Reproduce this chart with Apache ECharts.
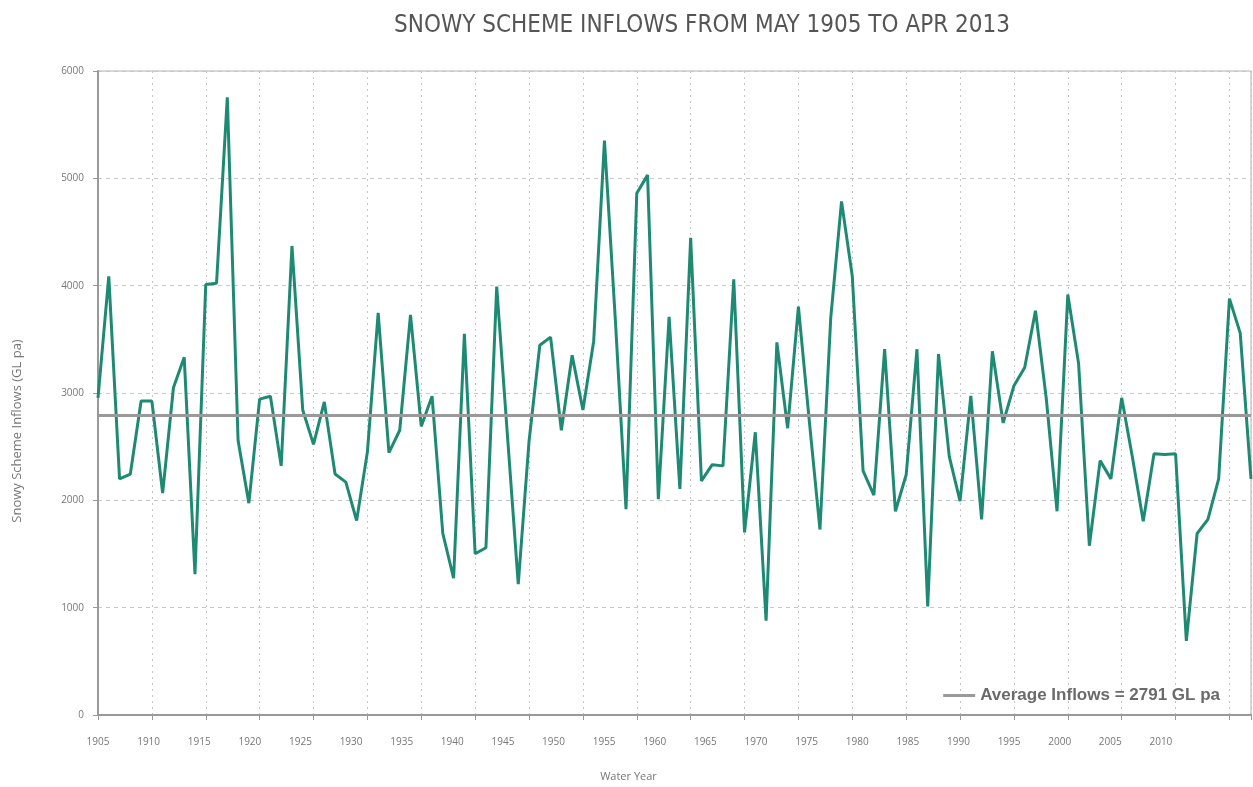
<!DOCTYPE html>
<html>
<head>
<meta charset="utf-8">
<script src="https://cdn.jsdelivr.net/npm/echarts@6/dist/echarts.min.js"></script>
<style>
html,body{margin:0;padding:0;background:#fff;}
#chart{width:1253px;height:787px;}
</style>
</head>
<body>
<div id="chart"></div>
<script>
const titleText = 'SNOWY SCHEME INFLOWS FROM MAY 1905 TO APR 2013';
const yAxisName = 'Snowy Scheme Inflows (GL pa)';
const xAxisName = 'Water Year';
const averageLabel = 'Average Inflows = 2791 GL pa';
const averageInflow = 2791;

const years = [
  1905,1906,1907,1908,1909,1910,1911,1912,1913,1914,
  1915,1916,1917,1918,1919,1920,1921,1922,1923,1924,
  1925,1926,1927,1928,1929,1930,1931,1932,1933,1934,
  1935,1936,1937,1938,1939,1940,1941,1942,1943,1944,
  1945,1946,1947,1948,1949,1950,1951,1952,1953,1954,
  1955,1956,1957,1958,1959,1960,1961,1962,1963,1964,
  1965,1966,1967,1968,1969,1970,1971,1972,1973,1974,
  1975,1976,1977,1978,1979,1980,1981,1982,1983,1984,
  1985,1986,1987,1988,1989,1990,1991,1992,1993,1994,
  1995,1996,1997,1998,1999,2000,2001,2002,2003,2004,
  2005,2006,2007,2008,2009,2010,2011,2012
];

const inflows = [
  2955,4087,2200,2245,2925,2925,2068,3049,3332,1313,
  4011,4023,5755,2558,1974,2943,2970,2321,4370,2842,
  2521,2917,2245,2170,1811,2450,3747,2445,2653,3728,
  2690,2970,1691,1275,3551,1502,1558,3992,2600,1219,
  2550,3445,3521,2653,3351,2842,3483,5351,3700,1917,
  4860,5030,2011,3709,2106,4445,2181,2332,2321,4060,
  1702,2634,879,3472,2672,3804,2750,1728,3700,4785,
  4087,2275,2049,3408,1898,2238,3408,1011,3362,2408,
  1992,2974,1823,3389,2721,3068,3238,3766,2950,1898,
  3917,3275,1577,2370,2200,2955,2400,1804,2434,2426,
  2434,691,1691,1823,2200,3879,3558,2200
];

const yTicks = [0,1000,2000,3000,4000,5000,6000];
const xTickLabels = [1905,1910,1915,1920,1925,1930,1935,1940,1945,1950,1955,1960,1965,1970,1975,1980,1985,1990,1995,2000,2005,2010];

const chart = echarts.init(document.getElementById('chart'));
const seriesData = years.map((y, i) => [y, inflows[i]]);

chart.setOption({
  backgroundColor: '#ffffff',
  animation: false,
  title: {
    text: titleText,
    left: 697,
    top: 9,
    textAlign: 'center',
    textStyle: {
      fontFamily: "'Liberation Sans Narrow','DejaVu Sans Condensed','Open Sans',sans-serif",
      fontSize: 24,
      fontWeight: 'normal',
      color: '#555555'
    }
  },
  legend: {
    right: 28,
    top: 682,
    itemWidth: 32,
    itemHeight: 3,
    itemGap: 8,
    data: [{name: averageLabel, icon: 'rect'}],
    textStyle: {
      fontFamily: "'Liberation Sans',Arial,sans-serif",
      fontSize: 17,
      fontWeight: 'bold',
      color: '#6a6a6a'
    }
  },
  grid: {
    left: 98,
    top: 71,
    width: 1153,
    height: 648,
    show: true,
    borderColor: '#b0b0b0',
    borderWidth: 1,
    containLabel: false
  },
  xAxis: [
    {
      type: 'value',
      min: years[0],
      max: years[years.length - 1],
      interval: 5,
      axisLine: {show: true, lineStyle: {color: '#999999', width: 2}},
      axisTick: {show: true, length: 5, inside: false, lineStyle: {color: '#999999'}},
      axisLabel: {show: false},
      splitLine: {show: true, lineStyle: {color: '#c4c4c4', type: [2, 4], width: 1}}
    },
    {
      type: 'value',
      position: 'bottom',
      min: 1905,
      max: 2018.9,
      interval: 5,
      axisLine: {show: false},
      axisTick: {show: false},
      splitLine: {show: false},
      axisLabel: {
        show: true,
        margin: 22,
        showMaxLabel: false,
        fontFamily: "'Open Sans',sans-serif",
        fontSize: 10,
        color: '#777777',
        formatter: function (v) { return xTickLabels.indexOf(v) >= 0 ? String(v) : ''; }
      },
      name: xAxisName,
      nameLocation: 'middle',
      nameGap: 56,
      nameTextStyle: {
        fontFamily: "'Open Sans',sans-serif",
        fontSize: 11,
        color: '#777777',
        padding: [0, 92, 0, 0]
      }
    }
  ],
  yAxis: {
    type: 'value',
    min: yTicks[0],
    max: yTicks[yTicks.length - 1],
    interval: 1000,
    axisLine: {show: true, lineStyle: {color: '#999999', width: 2}},
    axisTick: {show: true, length: 5, lineStyle: {color: '#999999'}},
    axisLabel: {
      margin: 14,
      fontFamily: "'Open Sans',sans-serif",
      fontSize: 10,
      color: '#777777',
      formatter: function (v) { return String(v); }
    },
    splitLine: {show: true, lineStyle: {color: '#c8c8c8', type: [4, 4], width: 1}},
    name: yAxisName,
    nameLocation: 'middle',
    nameGap: 74,
    nameRotate: 90,
    nameTextStyle: {
      fontFamily: "'Open Sans',sans-serif",
      fontSize: 13,
      color: '#777777',
      padding: [0, 0, 0, -76]
    }
  },
  series: [
    {
      name: averageLabel,
      type: 'line',
      xAxisIndex: 0,
      data: [],
      symbol: 'none',
      itemStyle: {color: '#9a9a9a'},
      lineStyle: {color: '#9a9a9a', width: 3},
      markLine: {
        silent: true,
        symbol: ['none', 'none'],
        label: {show: false},
        lineStyle: {color: '#9a9a9a', width: 3, type: 'solid'},
        data: [{yAxis: averageInflow}]
      },
      z: 3
    },
    {
      name: 'Inflows',
      type: 'line',
      xAxisIndex: 0,
      data: seriesData,
      symbol: 'none',
      lineStyle: {color: '#1f8a73', width: 3},
      itemStyle: {color: '#1f8a73'},
      z: 4
    }
  ]
});
</script>
</body>
</html>
